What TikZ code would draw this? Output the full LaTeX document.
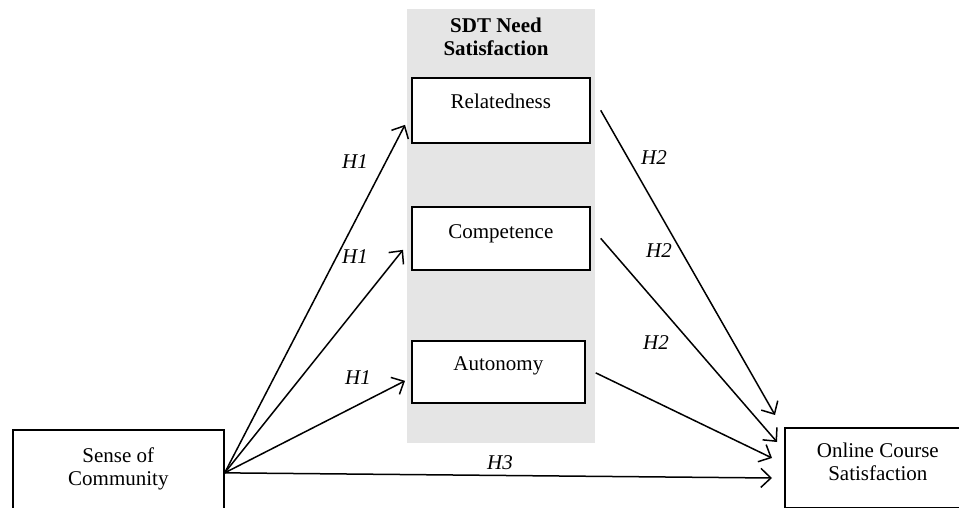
\documentclass[tikz,border=0pt]{standalone}
\usepackage{fontspec}
\setmainfont{Liberation Serif}
\usetikzlibrary{arrows.meta,calc,positioning}
\definecolor{bandGray}{HTML}{E5E5E5}

\tikzset{
  construct/.style={draw=black,line width=1.7pt,fill=white,inner xsep=0pt,inner ysep=0pt,
    align=center,anchor=north west,font=\fontsize{21}{23}\selectfont},
  hyp/.style={draw=black,line width=1.5pt,-{Straight Barb[length=10pt,width=19pt]}},
  hlabel/.style={font=\fontsize{21}{23}\selectfont\itshape,inner sep=0pt},
}

\begin{document}
\begin{tikzpicture}[x=1pt,y=-1pt]
  \useasboundingbox (0,0) rectangle (959,508);
  \clip (0,0) rectangle (959,508);
  % shaded band behind the three needs
  \node[fill=bandGray,inner sep=0pt,minimum width=188pt,minimum height=434pt,anchor=north west] (band) at (407,9) {};
  \node[font=\fontsize{21}{23}\selectfont\bfseries,align=center,inner sep=0pt,text height=39pt,anchor=north] (bandtitle) at (496,16) {SDT Need\\Satisfaction};

  \node[construct,minimum width=178pt,text height=31pt,text depth=34pt] (rel) at (411,77) {Relatedness};
  \node[construct,minimum width=178pt,text height=32pt,text depth=31pt] (comp) at (411,206) {Competence};
  \node[construct,minimum width=173pt,text height=30pt,text depth=32pt] (aut) at (411,340) {Autonomy};
  \node[construct,minimum width=211pt,text height=56pt,text depth=30pt] (soc) at (12,429) {Sense of\\Community};
  \node[construct,minimum width=186pt,text height=53pt,text depth=27pt] (onl) at (784,427) {Online Course\\Satisfaction};

  % H1
  \draw[hyp] (soc.east) -- ([shift={(-6pt,-14.5pt)}]rel.west);
  \draw[hyp] (soc.east) -- ([shift={(-8pt,-11.5pt)}]comp.west);
  \draw[hyp] (soc.east) -- ([shift={(-6pt,-9pt)}]aut.west);
  % H2
  \draw[hyp] ([xshift=10pt]rel.east) -- ([shift={(-9pt,12pt)}]onl.north west);
  \draw[hyp] ([xshift=10pt]comp.east) -- ([shift={(-7pt,-15pt)}]onl.north west);
  \draw[hyp] ([shift={(10pt,-1pt)}]aut.east) -- ([shift={(-12pt,-31pt)}]onl.north west);
  % H3
  \draw[hyp] (soc.east) -- ([shift={(-12pt,-51pt)}]onl.north west);

  \node[hlabel] (h1rel) at (355,162) {H1};
  \node[hlabel] (h1comp) at (355,257) {H1};
  \node[hlabel] (h1aut) at (358,378) {H1};
  \node[hlabel] (h2rel) at (654,158) {H2};
  \node[hlabel] (h2comp) at (659,251) {H2};
  \node[hlabel] (h2aut) at (656,343) {H2};
  \node[hlabel] (h3) at (500,463) {H3};
\end{tikzpicture}
\end{document}
